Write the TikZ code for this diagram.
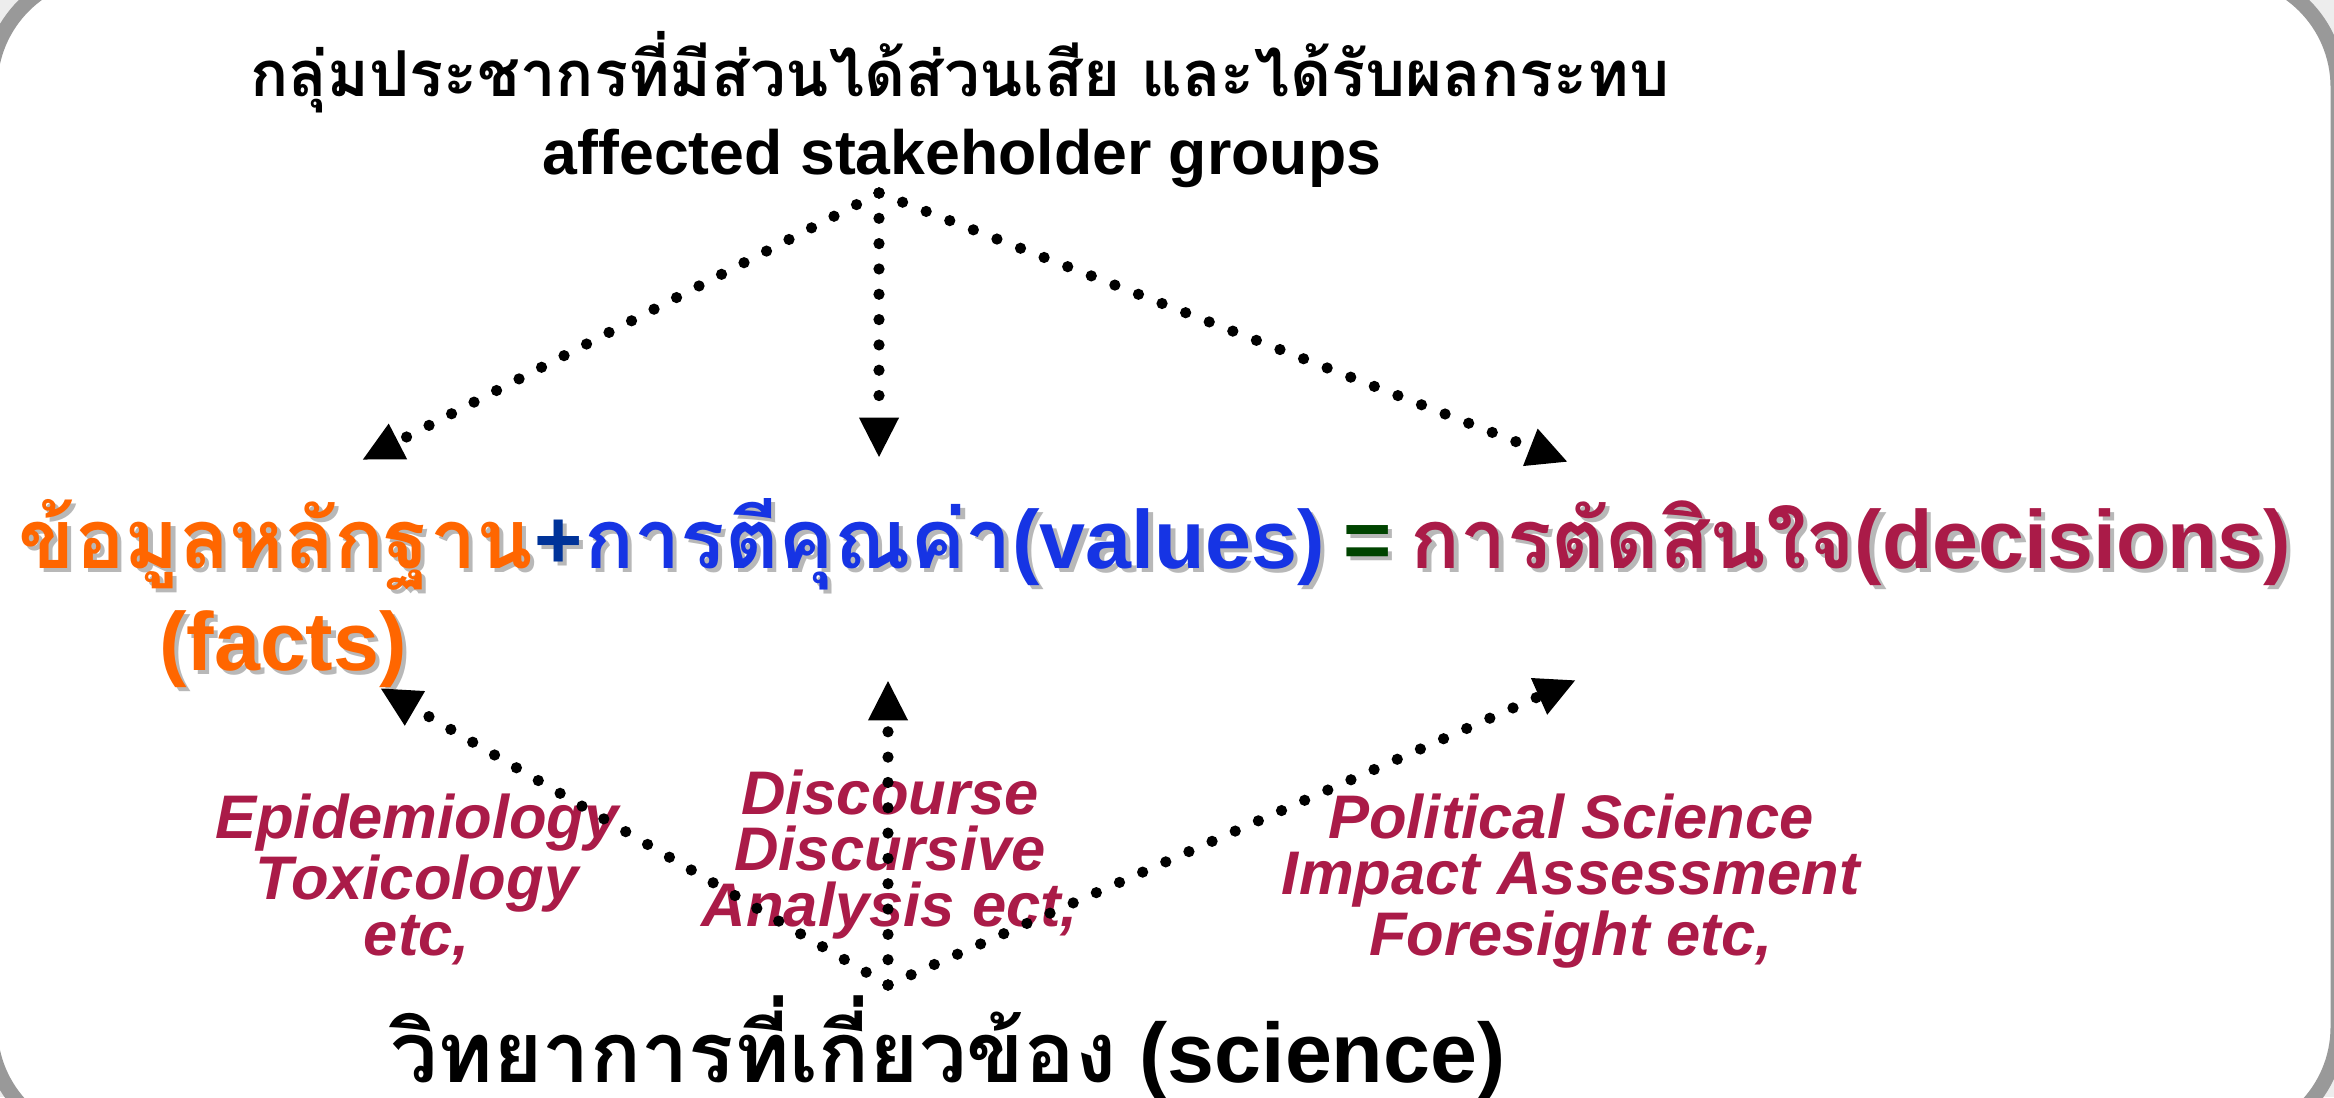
\documentclass[tikz,border=0pt]{standalone}
\usepackage{fontspec}
\setmainfont{Liberation Sans}
\newfontfamily\thaifont[Script=Thai]{Loma}
\usetikzlibrary{arrows.meta,positioning}

\definecolor{factcol}{RGB}{255,102,0}
\definecolor{pluscol}{RGB}{0,51,153}
\definecolor{valcol}{RGB}{22,52,228}
\definecolor{eqcol}{RGB}{0,68,0}
\definecolor{deccol}{RGB}{170,27,72}
\definecolor{framecol}{RGB}{153,153,153}

% text with a soft grey drop shadow
\newcommand{\shd}[1]{\leavevmode\rlap{\kern1.2pt\raisebox{-1.2pt}{\textcolor{black!28}{#1}}}#1}

\begin{document}
\begin{tikzpicture}[x=0.01cm,y=-0.01cm,
  flow/.style={line width=3.2pt,line cap=round,dash pattern=on 0pt off 7.2pt,
    -{Triangle[length=11.5pt,width=10.5pt]}},
  main/.style={inner sep=0pt,font=\bfseries\fontsize{23.5pt}{28pt}\selectfont},
  field/.style={inner sep=0pt,align=center,text=deccol,
    font=\bfseries\itshape\fontsize{17.5pt}{16pt}\selectfont}]
\clip (0,0) rectangle (2334,1097);
\fill[black!7] (0,0) rectangle (2334,1097);
\draw[framecol,fill=white,line width=0.15cm,rounded corners=1.15cm] (-10,-28) rectangle (2338,1142);

% stakeholders
\node[inner sep=0pt,anchor=base,font=\bfseries\fontsize{18pt}{22pt}\selectfont\thaifont] (grpth) at (960,97) {กลุ่มประชากรที่มีส่วนได้ส่วนเสีย และได้รับผลกระทบ};
\node[inner sep=0pt,anchor=base,font=\bfseries\fontsize{17.8pt}{20pt}\selectfont] (grp) at (962,175) {affected stakeholder groups};

% facts + values = decisions
\node[main,anchor=base west,text=factcol] (facts) at (18,568) {\shd{\thaifont ข้อมูลหลักฐาน}};
\node[main,base right=0pt of facts,text=pluscol] (plus) {\shd{+}};
\node[main,base right=0pt of plus,text=valcol] (values) {\shd{{\thaifont การตีคุณค่า}(values)}};
\node[main,base right=0pt of values,text=eqcol] (equals) {\shd{\kern5pt=\kern5pt}};
\node[main,base right=0pt of equals,text=deccol] (decisions) {\shd{{\thaifont การตัดสินใจ}(decisions)}};
\node[main,anchor=base,text=factcol] (factsen) at (283,670) {\shd{(facts)}};

% science
\node[main,anchor=base,font=\bfseries\fontsize{24pt}{28pt}\selectfont] (sci) at (948,1082) {{\thaifont วิทยาการที่เกี่ยวข้อง} (science)};

\node[field,anchor=north] (epi) at (417,793) {Epidemiology\\Toxicology\\etc,};
\node[field,anchor=north] (disc) at (890,769) {Discourse\\Discursive\\Analysis ect,};
\node[field,anchor=north] (pol) at (1571,793) {Political Science\\Impact Assessment\\Foresight etc,};

\coordinate (fan) at (879,193);
\coordinate (root) at (888,985);
\coordinate (tl) at (362,460);
\coordinate (tm) at (879,458);
\coordinate (tr) at (1568,462);
\coordinate (bl) at (380,688);
\coordinate (bm) at (888,680);
\coordinate (br) at (1576,680);

\draw[flow] (fan) -- (tl);
\draw[flow] (fan) -- (tm);
\draw[flow] (fan) -- (tr);
\draw[flow] (root) -- (bl);
\draw[flow] (root) -- (bm);
\draw[flow] (root) -- (br);
\end{tikzpicture}
\end{document}
